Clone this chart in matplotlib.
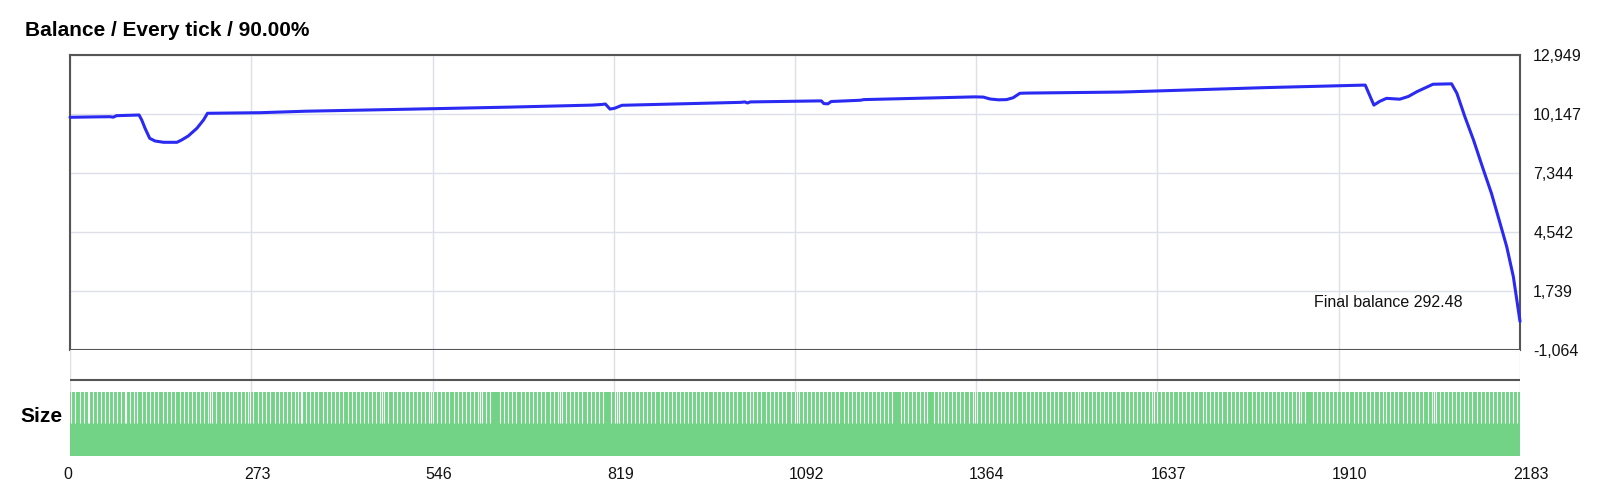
import matplotlib
matplotlib.use("Agg")
import matplotlib.pyplot as plt
from matplotlib.transforms import ScaledTranslation
from matplotlib.ticker import FuncFormatter

plt.rcParams['font.family'] = ['Liberation Sans', 'DejaVu Sans']

# ---------------- data ----------------
title = "Balance / Every tick / 90.00%"
x_ticks = [0, 273, 546, 819, 1092, 1364, 1637, 1910, 2183]
y_ticks = [-1064, 1739, 4542, 7344, 10147, 12949]

balance_trade = [0, 40, 60, 65, 70, 104, 108, 113, 120, 128, 141, 161, 168, 178,
                 191, 201, 207, 286, 355, 509, 663, 786, 801, 806, 813, 820, 831,
                 1010, 1016, 1020, 1024, 1131, 1135, 1141, 1146, 1190, 1195, 1362,
                 1375, 1385, 1398, 1410, 1420, 1430, 1440, 1584, 1800, 1950, 1963,
                 1972, 1982, 2002, 2015, 2028, 2052, 2080, 2088, 2100, 2113, 2128,
                 2140, 2153, 2163, 2173, 2183]
balance_value = [9990, 10010, 10018, 9995, 10066, 10099, 9861, 9467, 8992, 8864,
                 8802, 8802, 8911, 9101, 9467, 9861, 10180, 10208, 10279, 10374,
                 10474, 10569, 10600, 10620, 10380, 10420, 10560, 10700, 10720,
                 10670, 10720, 10770, 10640, 10630, 10740, 10800, 10830, 10960,
                 10950, 10860, 10820, 10830, 10920, 11130, 11140, 11190, 11400,
                 11520, 10570, 10750, 10890, 10850, 10980, 11210, 11560, 11580,
                 11130, 10018, 8911, 7487, 6380, 4955, 3843, 2418, 292.48]
final_balance = 292.48

lot_low = 0.52
lot_high = 1.0
size_gap_trades = [
    2, 8, 15, 21, 27, 29, 34, 40, 46, 52, 58, 65, 71, 77, 83, 85, 90, 96, 101,
    108, 115, 121, 127, 133, 140, 146, 152, 158, 165, 171, 177, 183, 189, 195,
    202, 208, 211, 214, 220, 227, 233, 239, 245, 251, 257, 263, 268, 271, 276,
    283, 289, 295, 301, 308, 314, 320, 326, 332, 338, 344, 348, 350, 356, 362,
    368, 374, 381, 387, 393, 399, 405, 411, 418, 424, 430, 436, 442, 449, 455,
    461, 467, 470, 473, 479, 486, 492, 498, 504, 510, 516, 523, 529, 535, 541,
    543, 547, 553, 559, 565, 571, 578, 584, 590, 596, 602, 608, 614, 618, 621,
    627, 633, 648, 654, 660, 666, 672, 679, 685, 691, 697, 703, 709, 715, 722,
    728, 734, 738, 741, 747, 753, 759, 765, 771, 778, 784, 790, 796, 803, 814,
    820, 823, 826, 832, 838, 844, 851, 857, 863, 869, 875, 881, 888, 894, 900,
    906, 912, 918, 925, 931, 937, 943, 949, 955, 961, 968, 974, 980, 986, 992,
    998, 1004, 1011, 1017, 1023, 1029, 1035, 1041, 1048, 1054, 1060, 1066, 1072,
    1078, 1085, 1091, 1094, 1097, 1103, 1109, 1115, 1121, 1128, 1134, 1140,
    1146, 1152, 1158, 1165, 1171, 1177, 1183, 1189, 1196, 1202, 1208, 1214,
    1220, 1226, 1232, 1238, 1251, 1255, 1261, 1267, 1273, 1279, 1285, 1290,
    1301, 1307, 1311, 1316, 1322, 1328, 1334, 1340, 1346, 1353, 1359, 1362,
    1365, 1371, 1377, 1383, 1389, 1396, 1402, 1408, 1414, 1420, 1426, 1433,
    1439, 1445, 1451, 1457, 1463, 1469, 1475, 1481, 1487, 1495, 1501, 1507,
    1513, 1517, 1520, 1526, 1532, 1538, 1544, 1551, 1557, 1563, 1569, 1575,
    1581, 1588, 1594, 1600, 1606, 1612, 1618, 1624, 1629, 1632, 1637, 1643,
    1649, 1655, 1661, 1668, 1674, 1680, 1686, 1692, 1698, 1705, 1711, 1717,
    1723, 1729, 1735, 1742, 1748, 1754, 1760, 1766, 1772, 1779, 1785, 1791,
    1797, 1803, 1809, 1816, 1822, 1828, 1834, 1840, 1846, 1850, 1853, 1859,
    1871, 1877, 1883, 1889, 1896, 1902, 1908, 1914, 1920, 1926, 1933, 1939,
    1945, 1951, 1957, 1963, 1970, 1976, 1982, 1988, 1994, 2000, 2007, 2013,
    2019, 2025, 2031, 2037, 2044, 2050, 2053, 2056, 2062, 2068, 2074, 2081,
    2087, 2093, 2099, 2105, 2111, 2118, 2124, 2130, 2136, 2142, 2148, 2155,
    2161, 2167, 2173, 2179]

# ---------------- style ----------------
W, H = 1600, 500
grid_c = '#dde0e8'
frame_c = '#555555'
line_c = '#2a2af2'
green = '#72d386'

fig = plt.figure(figsize=(W / 100, H / 100), dpi=100)

def rect(l, t, r, b):
    return [l / W, 1 - b / H, (r - l) / W, (b - t) / H]

ax = fig.add_axes(rect(70, 55, 1520, 350))
ax.set_xlim(x_ticks[0], x_ticks[-1])
ax.set_ylim(y_ticks[0], y_ticks[-1])
ax.set_xticks(x_ticks)
ax.set_yticks(y_ticks)
ax.grid(True, color=grid_c, lw=1)
ax.set_axisbelow(True)
ax.tick_params(axis='x', length=0, labelbottom=False)
ax.yaxis.tick_right()
ax.tick_params(axis='y', length=0, pad=9.5, labelsize=11.5, labelcolor='#111111')
ax.yaxis.set_major_formatter(FuncFormatter(lambda v, p: f"{int(round(v)):,}"))
for lab in ax.get_yticklabels():
    lab.set_horizontalalignment('left')
for s in ax.spines.values():
    s.set_color(frame_c)
    s.set_linewidth(1.5)
ax.plot(balance_trade, balance_value, color=line_c, lw=2.2, solid_capstyle='round',
        solid_joinstyle='round', zorder=3, clip_on=False)
ax.text(1873, 1169, f"Final balance {final_balance:.2f}", fontsize=11.5,
        color='#111111', va='center', ha='left')

# size panel
axs = fig.add_axes(rect(70, 350, 1520, 456))
ytop = lot_high * (456 - 350) / (456 - 392)
axs.set_xlim(x_ticks[0], x_ticks[-1])
axs.set_ylim(0, ytop)
axs.set_xticks(x_ticks)
axs.set_yticks([])
axs.grid(True, axis='x', color=grid_c, lw=1)
axs.set_axisbelow(True)
for s in axs.spines.values():
    s.set_visible(False)
axs.fill_between([x_ticks[0], x_ticks[-1]], 0, lot_high, color=green, lw=0, zorder=2)
axs.vlines(size_gap_trades, lot_low, lot_high + 0.01, color='white', lw=0.8, zorder=3)
axs.axhline(lot_high * (456 - 380) / (456 - 392), color=frame_c, lw=1.5, zorder=4)
axs.tick_params(axis='x', length=0, pad=8, labelsize=11.5, labelcolor='#111111')
off = ScaledTranslation(-7 / 100, 0, fig.dpi_scale_trans)
for lab in axs.get_xticklabels():
    lab.set_horizontalalignment('left')
    lab.set_transform(lab.get_transform() + off)

fig.text(25 / W, 1 - 30 / H, title, fontsize=15, fontweight='bold', va='center', ha='left')
fig.text(63 / W, 1 - 417 / H, "Size", fontsize=15, fontweight='bold', va='center', ha='right')

fig.savefig("out.png", dpi=100)
